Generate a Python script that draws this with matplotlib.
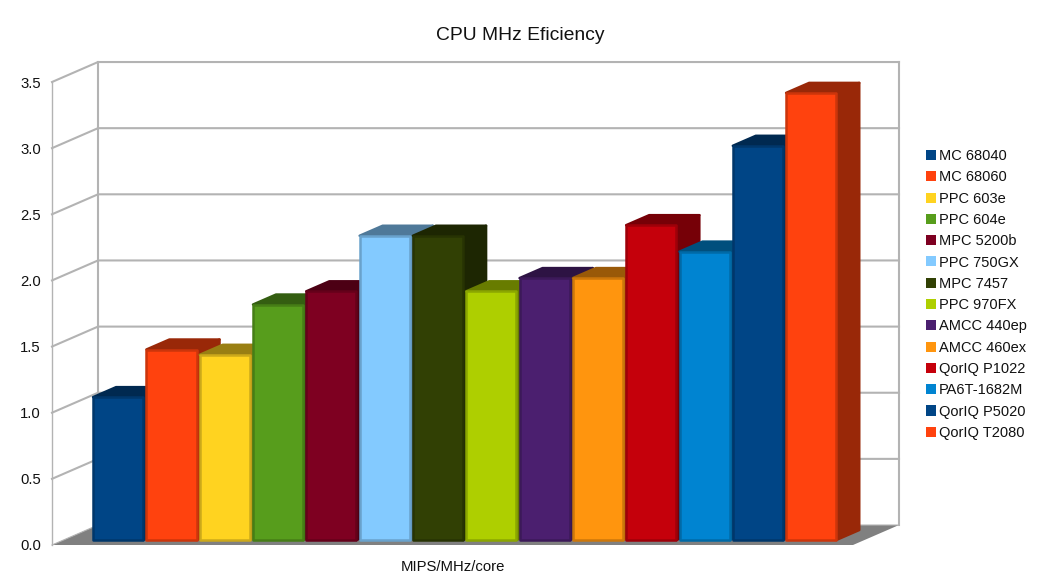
import numpy as np
import matplotlib
matplotlib.use('Agg')
import matplotlib.pyplot as plt
from matplotlib.patches import Patch, Polygon

plt.rcParams['font.family'] = ['Liberation Sans', 'DejaVu Sans']

# Chart data
cpus = ['MC 68040', 'MC 68060', 'PPC 603e', 'PPC 604e', 'MPC 5200b', 'PPC 750GX', 'MPC 7457',
        'PPC 970FX', 'AMCC 440ep', 'AMCC 460ex', 'QorIQ P1022', 'PA6T-1682M', 'QorIQ P5020', 'QorIQ T2080']
mips_per_mhz = [1.08, 1.44, 1.40, 1.78, 1.88, 2.30, 2.30, 1.88, 1.98, 1.98, 2.38, 2.18, 2.98, 3.38]
colors = ['#004586', '#ff420e', '#ffd320', '#579d1c', '#7e0021', '#83caff', '#314004',
          '#aecf00', '#4b1f6f', '#ff950e', '#c5000b', '#0084d1', '#004586', '#ff420e']
y_ticks = [0.0, 0.5, 1.0, 1.5, 2.0, 2.5, 3.0, 3.5]

# Depth of the fake 3D box, in data units
DX = 0.863
DY = 0.151
BAR_FRONT = 0.25
BAR_BACK = 0.75
BAR_INSET = 0.03
GRID = '#b3b3b3'


def shade(color, factor):
    rgb = np.array(matplotlib.colors.to_rgb(color))
    return tuple(rgb * factor)


def pt(x, y, d):
    # project a point at depth d (0 front, 1 back wall)
    return (x + d * DX, y + d * DY)


fig = plt.figure(figsize=(10.41, 5.86), dpi=100, facecolor='white')
ax = fig.add_axes([52 / 1041, 1 - 545 / 586, 801 / 1041, 463 / 586])
ax.set_xlim(-0.525, 14.5)
ax.set_ylim(0, 3.5)
ax.patch.set_visible(False)
for s in ax.spines.values():
    s.set_visible(False)

x_left = ax.get_xlim()[0]
x_right = ax.get_xlim()[1]

# Floor
floor = [pt(x_left, 0, 0), pt(x_right, 0, 0), pt(x_right, 0, 1), pt(x_left, 0, 1)]
ax.add_patch(Polygon(floor, closed=True, facecolor='#808080', edgecolor='none', clip_on=False, zorder=1))

# Walls and grid lines
for t in y_ticks:
    x_vals, y_vals = zip(pt(x_left, t, 0), pt(x_left, t, 1), pt(x_right, t, 1))
    ax.plot(x_vals, y_vals, color=GRID, lw=1.5 if t > 0 else 0.8, clip_on=False, zorder=1.5)
x_vals, y_vals = zip(pt(x_left, 0, 0), pt(x_left, 3.5, 0))
ax.plot(x_vals, y_vals, color=GRID, lw=1.0, clip_on=False, zorder=1.5)
x_vals, y_vals = zip(pt(x_left, 0, 1), pt(x_left, 3.5, 1))
ax.plot(x_vals, y_vals, color=GRID, lw=1.5, clip_on=False, zorder=1.5)
x_vals, y_vals = zip(pt(x_right, 0, 1), pt(x_right, 3.5, 1))
ax.plot(x_vals, y_vals, color=GRID, lw=1.5, clip_on=False, zorder=1.5)

# Bars, left to right so later ones hide the sides of earlier ones
for i in range(len(cpus)):
    v = mips_per_mhz[i]
    c = colors[i]
    z = 2 + i
    x0 = i + BAR_INSET
    x1 = i + 1 - BAR_INSET
    front = [pt(x0, 0, BAR_FRONT), pt(x1, 0, BAR_FRONT), pt(x1, v, BAR_FRONT), pt(x0, v, BAR_FRONT)]
    side = [pt(x1, 0, BAR_FRONT), pt(x1, 0, BAR_BACK), pt(x1, v, BAR_BACK), pt(x1, v, BAR_FRONT)]
    top = [pt(x0, v, BAR_FRONT), pt(x1, v, BAR_FRONT), pt(x1, v, BAR_BACK), pt(x0, v, BAR_BACK)]
    ax.add_patch(Polygon(side, closed=True, facecolor=shade(c, 0.6), edgecolor=shade(c, 0.6), lw=1.8,
                         joinstyle='round', clip_on=False, zorder=z))
    ax.add_patch(Polygon(top, closed=True, facecolor=shade(c, 0.6), edgecolor=shade(c, 0.6), lw=1.8,
                         joinstyle='round', clip_on=False, zorder=z))
    ax.add_patch(Polygon(front, closed=True, facecolor=c, edgecolor=shade(c, 0.8), lw=1.8,
                         joinstyle='round', clip_on=False, zorder=z + 0.5))

ax.set_yticks(y_ticks)
ax.set_yticklabels([f'{t:.1f}' for t in y_ticks])
ax.set_xticks([])
ax.tick_params(axis='y', length=0, pad=8, labelsize=10.7, labelcolor='#111111')
ax.set_xlabel('MIPS/MHz/core', fontsize=10.7, labelpad=11, color='#111111')

fig.text(520 / 1041, 1 - 36 / 586, 'CPU MHz Eficiency', fontsize=13.9, ha='center', va='center', color='#111111')

handles = [Patch(facecolor=colors[i], edgecolor='none', label=cpus[i]) for i in range(len(cpus))]
fig.legend(handles=handles, loc='center left', bbox_to_anchor=(926 / 1041, 1 - 294.5 / 586), frameon=False,
           fontsize=10.5, labelspacing=0.50, handlelength=0.68, handleheight=0.68, handletextpad=0.2,
           borderpad=0, borderaxespad=0, labelcolor='#111111')

fig.savefig('out.png', dpi=100)
